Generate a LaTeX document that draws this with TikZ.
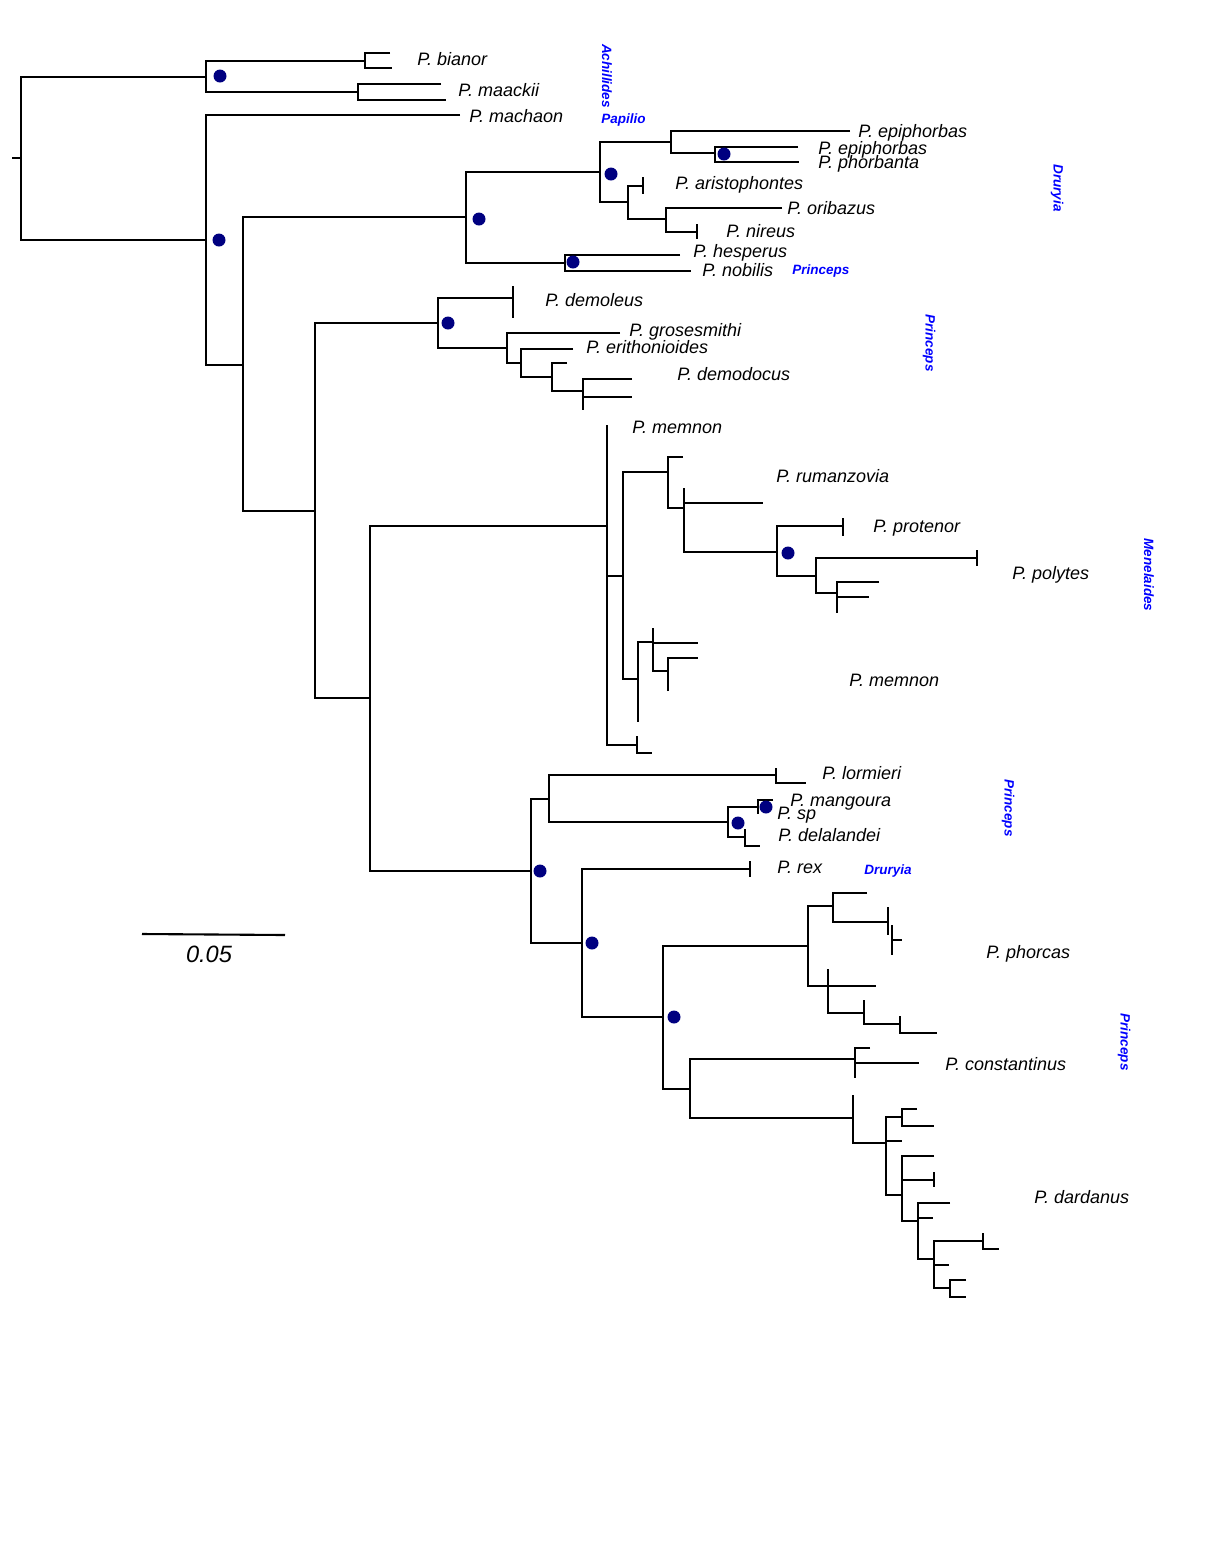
\documentclass[tikz,border=0pt]{standalone}
\usepackage{fontspec}
\setmainfont{Liberation Sans}
\definecolor{dotnavy}{RGB}{0,0,128}
\definecolor{cladeblue}{RGB}{0,0,255}
\begin{document}
\begin{tikzpicture}[x=0.5pt,y=-0.5pt,
  tr/.style={line width=1.05pt,black},
  sp/.style={anchor=base west,inner sep=0pt,font=\fontsize{9}{10}\selectfont\itshape},
  clade/.style={inner sep=0pt,text=cladeblue,font=\fontsize{6.75}{8}\selectfont\bfseries\itshape},
  vclade/.style={clade,rotate=-90,anchor=center},
  hclade/.style={clade,anchor=base west},
  support/.style={fill=dotnavy}]
\useasboundingbox (0,0) rectangle (1223,1544);
% ---------- root and Achillides / Papilio ----------
\draw[tr] (12,158) -- (21,158);
\draw[tr] (206,77) -- (21,77) -- (21,240) -- (206,240);
\draw[tr] (365,61) -- (206,61) -- (206,92) -- (358,92);
\draw[tr] (390,53) -- (365,53) -- (365,68) -- (392,68);
\draw[tr] (441,84) -- (358,84) -- (358,100) -- (446,100);
\draw[tr] (460,115) -- (206,115) -- (206,365) -- (243,365);
\draw[tr] (466,217) -- (243,217) -- (243,511) -- (315,511);
% ---------- Druryia clade ----------
\draw[tr] (600,172) -- (466,172) -- (466,263) -- (565,263);
\draw[tr] (671,142) -- (600,142) -- (600,202) -- (628,202);
\draw[tr] (850,131) -- (671,131) -- (671,153) -- (715,153);
\draw[tr] (798,147) -- (715,147) -- (715,162) -- (799,162);
\draw[tr] (643,186) -- (628,186) -- (628,219) -- (666,219);
\draw[tr] (643,177) -- (643,194);
\draw[tr] (782,208) -- (666,208) -- (666,232) -- (697,232);
\draw[tr] (697,224) -- (697,239);
\draw[tr] (680,255) -- (565,255) -- (565,271) -- (691,271);
% ---------- Princeps (demoleus) ----------
\draw[tr] (438,323) -- (315,323) -- (315,698) -- (370,698);
\draw[tr] (513,298) -- (438,298) -- (438,348) -- (507,348);
\draw[tr] (513,286) -- (513,318);
\draw[tr] (620,333) -- (507,333) -- (507,363) -- (521,363);
\draw[tr] (573,349) -- (521,349) -- (521,377) -- (552,377);
\draw[tr] (567,363) -- (552,363) -- (552,391) -- (583,391);
\draw[tr] (632,379) -- (583,379) -- (583,410);
\draw[tr] (583,397) -- (632,397);
% ---------- Menelaides ----------
\draw[tr] (607,526) -- (370,526) -- (370,871) -- (531,871);
\draw[tr] (607,425) -- (607,745) -- (637,745);
\draw[tr] (607,576) -- (623,576);
\draw[tr] (668,472) -- (623,472) -- (623,679) -- (638,679);
\draw[tr] (683,457) -- (668,457) -- (668,508) -- (684,508);
\draw[tr] (684,488) -- (684,552) -- (777,552);
\draw[tr] (684,503) -- (763,503);
\draw[tr] (843,526) -- (777,526) -- (777,576) -- (816,576);
\draw[tr] (843,518) -- (843,536);
\draw[tr] (977,558) -- (816,558) -- (816,593) -- (837,593);
\draw[tr] (977,550) -- (977,566);
\draw[tr] (879,582) -- (837,582) -- (837,613);
\draw[tr] (837,597) -- (869,597);
\draw[tr] (653,642) -- (638,642) -- (638,722);
\draw[tr] (653,628) -- (653,671) -- (668,671);
\draw[tr] (653,643) -- (698,643);
\draw[tr] (668,691) -- (668,658) -- (698,658);
\draw[tr] (637,736) -- (637,753) -- (652,753);
% ---------- African Princeps ----------
\draw[tr] (549,799) -- (531,799) -- (531,943) -- (582,943);
\draw[tr] (776,775) -- (549,775) -- (549,822) -- (728,822);
\draw[tr] (776,768) -- (776,783) -- (806,783);
\draw[tr] (758,807) -- (728,807) -- (728,837) -- (745,837);
\draw[tr] (773,800) -- (758,800) -- (758,814);
\draw[tr] (745,829) -- (745,846) -- (760,846);
\draw[tr] (750,869) -- (582,869) -- (582,1017) -- (663,1017);
\draw[tr] (750,861) -- (750,877);
\draw[tr] (808,946) -- (663,946) -- (663,1089) -- (690,1089);
\draw[tr] (833,906) -- (808,906) -- (808,986) -- (876,986);
\draw[tr] (867,893) -- (833,893) -- (833,922) -- (888,922);
\draw[tr] (888,907) -- (888,935);
\draw[tr] (892,925) -- (892,955);
\draw[tr] (892,940) -- (902,940);
\draw[tr] (828,969) -- (828,1013) -- (864,1013);
\draw[tr] (864,1000) -- (864,1024) -- (900,1024);
\draw[tr] (900,1016) -- (900,1033) -- (937,1033);
\draw[tr] (855,1059) -- (690,1059) -- (690,1118) -- (853,1118);
\draw[tr] (870,1048) -- (855,1048) -- (855,1078);
\draw[tr] (855,1063) -- (919,1063);
\draw[tr] (853,1095) -- (853,1143) -- (886,1143);
\draw[tr] (902,1117) -- (886,1117) -- (886,1195) -- (902,1195);
\draw[tr] (917,1109) -- (902,1109) -- (902,1126) -- (934,1126);
\draw[tr] (886,1141) -- (902,1141);
\draw[tr] (934,1156) -- (902,1156) -- (902,1221) -- (918,1221);
\draw[tr] (902,1180) -- (934,1180);
\draw[tr] (934,1172) -- (934,1187);
\draw[tr] (950,1203) -- (918,1203) -- (918,1259) -- (934,1259);
\draw[tr] (918,1218) -- (933,1218);
\draw[tr] (983,1241) -- (934,1241) -- (934,1288) -- (950,1288);
\draw[tr] (983,1233) -- (983,1249) -- (999,1249);
\draw[tr] (934,1265) -- (949,1265);
\draw[tr] (966,1280) -- (950,1280) -- (950,1297) -- (966,1297);
% ---------- support dots ----------
\foreach \p in {(220,76),(219,240),(611,174),(724,154),(479,219),(573,262),(448,323),(788,553),(766,807),(738,823),(540,871),(592,943),(674,1017)}
  \fill[support] \p circle (3.25pt);
% ---------- species labels ----------
\node[sp] (bianor) at (417,65) {P. bianor};
\node[sp] (maackii) at (458,96) {P. maackii};
\node[sp] (machaon) at (469,122) {P. machaon};
\node[sp] (epiphorbasA) at (858,137) {P. epiphorbas};
\node[sp] (epiphorbasB) at (818,154) {P. epiphorbas};
\node[sp] (phorbanta) at (818,168) {P. phorbanta};
\node[sp] (aristophontes) at (675,189) {P. aristophontes};
\node[sp] (oribazus) at (787,214) {P. oribazus};
\node[sp] (nireus) at (726,237) {P. nireus};
\node[sp] (hesperus) at (693,257) {P. hesperus};
\node[sp] (nobilis) at (702,276) {P. nobilis};
\node[sp] (demoleus) at (545,306) {P. demoleus};
\node[sp] (grosesmithi) at (629,336) {P. grosesmithi};
\node[sp] (erithonioides) at (586,353) {P. erithonioides};
\node[sp] (demodocus) at (677,380) {P. demodocus};
\node[sp] (memnonA) at (632,433) {P. memnon};
\node[sp] (rumanzovia) at (776,482) {P. rumanzovia};
\node[sp] (protenor) at (873,532) {P. protenor};
\node[sp] (polytes) at (1012,579) {P. polytes};
\node[sp] (memnonB) at (849,686) {P. memnon};
\node[sp] (lormieri) at (822,779) {P. lormieri};
\node[sp] (mangoura) at (790,806) {P. mangoura};
\node[sp] (psp) at (777,819) {P. sp};
\node[sp] (delalandei) at (778,841) {P. delalandei};
\node[sp] (rex) at (777,873) {P. rex};
\node[sp] (phorcas) at (986,958) {P. phorcas};
\node[sp] (constantinus) at (945,1070) {P. constantinus};
\node[sp] (dardanus) at (1034,1203) {P. dardanus};
% ---------- clade labels ----------
\node[vclade] (cAchillides) at (607,76) {Achillides};
\node[hclade] (cPapilio) at (601,123) {Papilio};
\node[vclade] (cDruryiaA) at (1057,188) {Druryia};
\node[hclade] (cPrincepsA) at (792,274) {Princeps};
\node[vclade] (cPrincepsB) at (929,343) {Princeps};
\node[vclade] (cMenelaides) at (1149,575) {Menelaides};
\node[vclade] (cPrincepsC) at (1008,808) {Princeps};
\node[hclade] (cDruryiaB) at (864,874) {Druryia};
\node[vclade] (cPrincepsD) at (1124,1042) {Princeps};
% ---------- scale bar ----------
\coordinate (sbL) at (142,934);
\coordinate (sbR) at (285,935);
\draw[tr] (sbL) -- (sbR);
\node[inner sep=0pt,font=\fontsize{11.8}{14}\selectfont\itshape] (sbtext) at (209,954) {0.05};
\end{tikzpicture}
\end{document}
